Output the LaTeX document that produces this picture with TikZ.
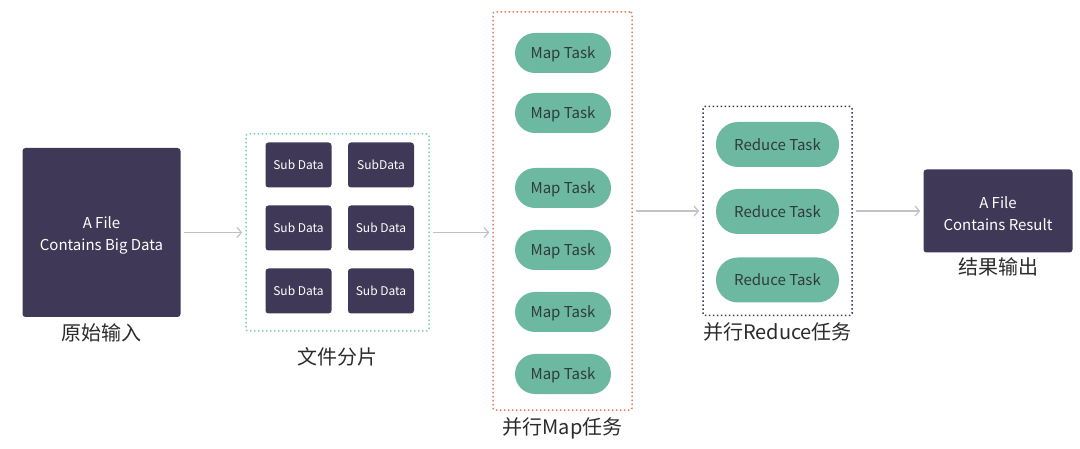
\documentclass[tikz,border=0pt]{standalone}
\usepackage{fontspec}
\setmainfont{Noto Sans CJK SC}
\usetikzlibrary{positioning,arrows.meta}
\definecolor{filebg}{HTML}{3F3857}
\definecolor{taskbg}{HTML}{6DB8A0}
\definecolor{tasktext}{HTML}{2F3B3B}
\definecolor{greendot}{HTML}{7DCBB0}
\definecolor{reddot}{HTML}{E07A5C}
\definecolor{arrowgray}{HTML}{BFC3C8}
\definecolor{captext}{HTML}{2B2B2B}

\begin{document}
\begin{tikzpicture}[x=1pt,y=-1pt,
    file/.style={rectangle,rounded corners=3pt,fill=filebg},
    filetext/.style={yshift=-3pt,text=white,align=center,font=\fontsize{15}{22}\selectfont},
    subbox/.style={rectangle,rounded corners=3pt,fill=filebg,text=white,text height=10pt,text depth=0pt,
      minimum width=66pt,minimum height=45pt,font=\fontsize{12}{14}\selectfont},
    task/.style={rectangle,fill=taskbg,text=tasktext,text height=12pt,text depth=0pt,
      font=\fontsize{15}{17}\selectfont},
    group/.style={rectangle,rounded corners=2pt,line width=1.5pt,dash pattern=on 1.5pt off 2.5pt},
    labeltext/.style={inner sep=0pt,text=captext,font=\fontsize{20}{22}\selectfont},
    flow/.style={draw=arrowgray,line width=1.2pt,-{Straight Barb[length=4.5pt,width=10pt]},
      shorten <=3pt,shorten >=3pt}]
    \useasboundingbox (0,0) rectangle (1080,449);

    % input file
    \node [file,minimum width=158pt,minimum height=169pt,
      label={[filetext]center:A File\\Contains Big Data}] (input) at (101.5,232.5) {};
    \node [labeltext,below=6pt of input] (inputlabel) {原始输入};

    % splits
    \node [group,draw=greendot,minimum width=183pt,minimum height=197pt] (split) at (337.5,232.5) {};
    \node [subbox] (sub1) at (298.5,165) {Sub Data};
    \node [subbox] (sub2) at (381,165) {SubData};
    \node [subbox] (sub3) at (298.5,228) {Sub Data};
    \node [subbox] (sub4) at (381,228) {Sub Data};
    \node [subbox] (sub5) at (298.5,291) {Sub Data};
    \node [subbox] (sub6) at (381,291) {Sub Data};
    \node [labeltext,below=16pt of split] (splitlabel) {文件分片};

    % map tasks
    \node [group,draw=reddot,minimum width=139pt,minimum height=398pt] (maps) at (562.5,211) {};
    \node [task,rounded corners=20pt,minimum width=96pt,minimum height=40pt] (map1) at (563,53) {Map Task};
    \node [task,rounded corners=20pt,minimum width=96pt,minimum height=40pt] (map2) at (563,113) {Map Task};
    \node [task,rounded corners=20pt,minimum width=96pt,minimum height=40pt] (map3) at (563,188) {Map Task};
    \node [task,rounded corners=20pt,minimum width=96pt,minimum height=40pt] (map4) at (563,250) {Map Task};
    \node [task,rounded corners=20pt,minimum width=96pt,minimum height=40pt] (map5) at (563,312) {Map Task};
    \node [task,rounded corners=20pt,minimum width=96pt,minimum height=40pt] (map6) at (563,374) {Map Task};
    \node [labeltext,below=7pt of maps] (mapslabel) {并行Map任务};

    % reduce tasks
    \node [group,draw=filebg,minimum width=149pt,minimum height=209pt] (reduces) at (777.5,211) {};
    \node [task,rounded corners=22pt,minimum width=123pt,minimum height=45pt] (red1) at (777.5,144.5) {Reduce Task};
    \node [task,rounded corners=22pt,minimum width=123pt,minimum height=45pt] (red2) at (777.5,211.5) {Reduce Task};
    \node [task,rounded corners=22pt,minimum width=123pt,minimum height=45pt] (red3) at (777.5,280) {Reduce Task};
    \node [labeltext,below=6pt of reduces] (reduceslabel) {并行Reduce任务};

    % output file
    \node [file,minimum width=149pt,minimum height=83pt,
      label={[filetext]center:A File\\Contains Result}] (output) at (998,211) {};
    \node [labeltext,below=5pt of output] (outputlabel) {结果输出};

    \path
    (input) edge [flow] (split)
    (split.east) edge [flow] (split.east -| maps.west)
    (maps) edge [flow] (reduces)
    (reduces) edge [flow] (output)
    ;
\end{tikzpicture}
\end{document}
